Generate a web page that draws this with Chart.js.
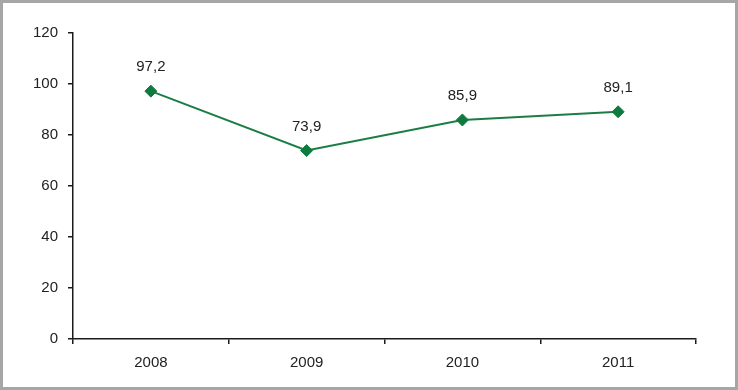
<!DOCTYPE html>
<html>
<head>
<meta charset="utf-8">
<script src="https://cdn.jsdelivr.net/npm/chart.js@4/dist/chart.umd.min.js"></script>
<style>
  html, body { margin: 0; padding: 0; background: #fff; }
  #wrap {
    width: 738px; height: 390px; box-sizing: border-box;
    border: 3px solid #a6a6a6; background: #fff;
  }
  canvas { display: block; }
</style>
</head>
<body>
<div id="wrap"><canvas id="c" width="732" height="384"></canvas></div>
<script>
// chart data
const years  = ['2008', '2009', '2010', '2011'];
const values = [97.2, 73.9, 85.9, 89.1];
const yTicks = [0, 20, 40, 60, 80, 100, 120];

const FONT = { family: 'Liberation Sans, Arial, sans-serif', size: 15 };
const GREEN = '#1b7d45';

// value labels above each marker, comma as decimal separator
const pointLabels = {
  id: 'pointLabels',
  afterDatasetsDraw(chart) {
    const ctx = chart.ctx;
    const meta = chart.getDatasetMeta(0);
    ctx.save();
    ctx.font = FONT.size + 'px ' + FONT.family;
    ctx.fillStyle = '#222';
    ctx.textAlign = 'center';
    ctx.textBaseline = 'middle';
    meta.data.forEach((pt, i) => {
      ctx.fillText(values[i].toFixed(1).replace('.', ','), pt.x, pt.y - 24);
    });
    ctx.restore();
  }
};

new Chart(document.getElementById('c'), {
  type: 'line',
  data: {
    labels: years,
    datasets: [{
      data: values,
      borderColor: GREEN,
      borderWidth: 2,
      backgroundColor: '#0e7a3e',
      pointStyle: 'rectRot',
      pointRadius: 6,
      pointBorderWidth: 1,
      pointBorderColor: '#0e7a3e',
      tension: 0,
      fill: false
    }]
  },
  options: {
    responsive: false,
    animation: false,
    layout: { padding: { left: 0, right: 39, top: 30, bottom: 0 } },
    plugins: { legend: { display: false }, tooltip: { enabled: false } },
    scales: {
      x: {
        offset: true,
        grid: { offset: true, drawOnChartArea: false, drawTicks: true, tickLength: 5, color: '#1a1a1a', lineWidth: 1.5 },
        border: { display: true, color: '#1a1a1a', width: 1.5 },
        ticks: { color: '#222', font: FONT, padding: 10 },
        afterFit(scale) { scale.height = 48; }
      },
      y: {
        min: 0, max: 120,
        afterBuildTicks(scale) { scale.ticks = yTicks.map(v => ({ value: v })); },
        grid: { drawOnChartArea: false, drawTicks: true, tickLength: 5, color: '#1a1a1a', lineWidth: 1.5 },
        border: { display: true, color: '#1a1a1a', width: 1.5 },
        ticks: { color: '#222', font: FONT, padding: 10 },
        afterFit(scale) { scale.width = 70; }
      }
    }
  },
  plugins: [pointLabels]
});
</script>
</body>
</html>
